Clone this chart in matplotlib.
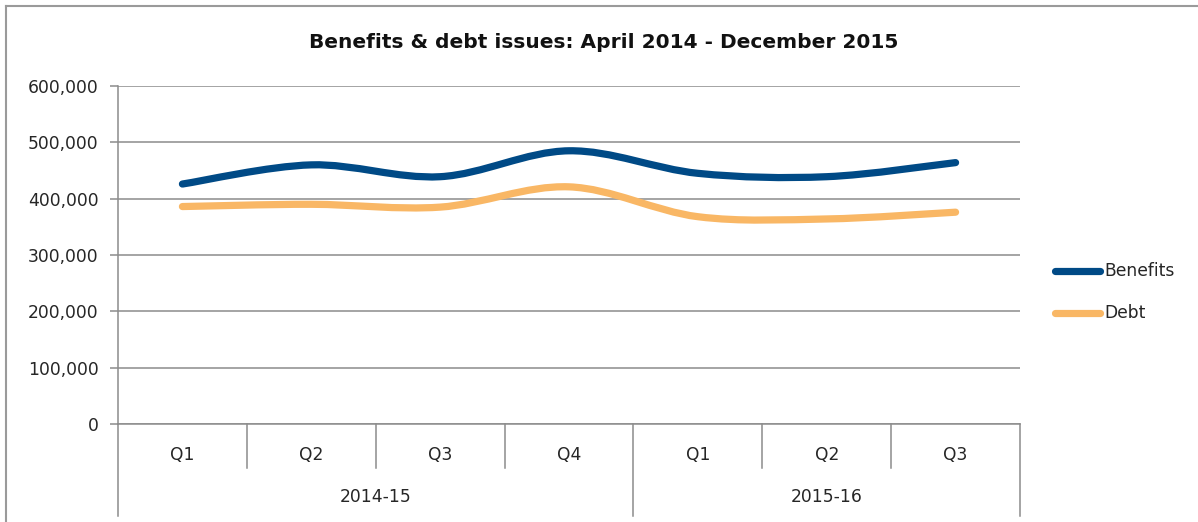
import matplotlib.pyplot as plt
from matplotlib.path import Path
from matplotlib.patches import PathPatch
from matplotlib.lines import Line2D
from matplotlib.ticker import FuncFormatter
import matplotlib.transforms as mtransforms

# quarterly figures, April 2014 - December 2015
quarters = ["Q1", "Q2", "Q3", "Q4", "Q1", "Q2", "Q3"]
years = ["2014-15", "2015-16"]
year_spans = [(0, 4), (4, 7)]
benefits = [426000, 460000, 439000, 485000, 445000, 439000, 464000]
debt = [386000, 390000, 385000, 421000, 368000, 364000, 376000]

BLUE = "#004A86"
ORANGE = "#F9B765"
GRID = "#8C8C8C"
TEXT = "#262626"
FS = 12.3

plt.rcParams['font.family'] = ["DejaVu Sans"]


def smooth_path(xs, ys):
    """Catmull-Rom style cubic bezier through the points (spreadsheet smoothed line)."""
    pts = list(zip(xs, ys))
    n = len(pts)
    verts = [pts[0]]
    codes = [Path.MOVETO]
    for i in range(n - 1):
        p0 = pts[i - 1] if i > 0 else pts[i]
        p1 = pts[i]
        p2 = pts[i + 1]
        p3 = pts[i + 2] if i + 2 < n else pts[i + 1]
        c1 = (p1[0] + (p2[0] - p0[0]) / 6, p1[1] + (p2[1] - p0[1]) / 6)
        c2 = (p2[0] - (p3[0] - p1[0]) / 6, p2[1] - (p3[1] - p1[1]) / 6)
        verts += [c1, c2, p2]
        codes += [Path.CURVE4] * 3
    return Path(verts, codes)


fig = plt.figure(figsize=(11.98, 5.22), dpi=100)
ax = fig.add_axes([118 / 1198, 1 - 424 / 522, (1020 - 118) / 1198, (424 - 86) / 522])

xs = [i + 0.5 for i in range(len(quarters))]
for vals, color in [(benefits, BLUE), (debt, ORANGE)]:
    patch = PathPatch(smooth_path(xs, vals), facecolor="none", edgecolor=color,
                      lw=5.2, capstyle="round", joinstyle="round", zorder=3)
    ax.add_patch(patch)

ax.set_xlim(0, len(quarters))
ax.set_ylim(0, 600000)
ax.set_yticks(range(0, 600001, 100000))
ax.yaxis.set_major_formatter(FuncFormatter(lambda v, p: f"{int(v):,}"))
ax.grid(axis="y", color=GRID, lw=1.1)
ax.set_axisbelow(True)
ax.set_xticks([])
for side in ["top", "right"]:
    ax.spines[side].set_visible(False)
for side in ["left", "bottom"]:
    ax.spines[side].set_color(GRID)
    ax.spines[side].set_linewidth(1.1)
ax.tick_params(axis="y", length=6, color=GRID, width=1.1, labelsize=FS,
               labelcolor=TEXT, pad=8)

# two-level category axis drawn below the plot
trans = mtransforms.blended_transform_factory(ax.transData, fig.transFigure)


def fy(px):
    return 1 - px / 522


for i, q in enumerate(quarters):
    ax.text(i + 0.5, fy(455), q, transform=trans, ha="center", va="center",
            fontsize=FS, color=TEXT)
for i in range(1, len(quarters)):
    bottom = 516 if any(i == s for s, e in year_spans) else 468
    ax.add_line(Line2D([i, i], [fy(424), fy(bottom)], transform=trans,
                       color=GRID, lw=1.1, clip_on=False))
for x in [0, len(quarters)]:
    ax.add_line(Line2D([x, x], [fy(424), fy(516)], transform=trans,
                       color=GRID, lw=1.1, clip_on=False))
for (s, e), y in zip(year_spans, years):
    ax.text((s + e) / 2, fy(497), y, transform=trans, ha="center", va="center",
            fontsize=FS, color=TEXT)

fig.text(604 / 1198, fy(42), "Benefits & debt issues: April 2014 - December 2015",
         ha="center", va="center", fontsize=14.5, fontweight="bold", color="#111111")

# legend
for y, label, color in [(271, "Benefits", BLUE), (313, "Debt", ORANGE)]:
    fig.add_artist(Line2D([1055 / 1198, 1100 / 1198], [fy(y), fy(y)],
                          color=color, lw=5.2, solid_capstyle="round"))
    fig.text(1104 / 1198, fy(y), label, ha="left", va="center",
             fontsize=FS, color=TEXT)

# outer chart frame
fig.add_artist(Line2D([6 / 1198, 1], [fy(6), fy(6)], color="#9A9A9A", lw=1.5))
fig.add_artist(Line2D([6 / 1198, 6 / 1198], [fy(6), 0], color="#9A9A9A", lw=1.5))

fig.savefig("out.png", dpi=100, facecolor="white")
